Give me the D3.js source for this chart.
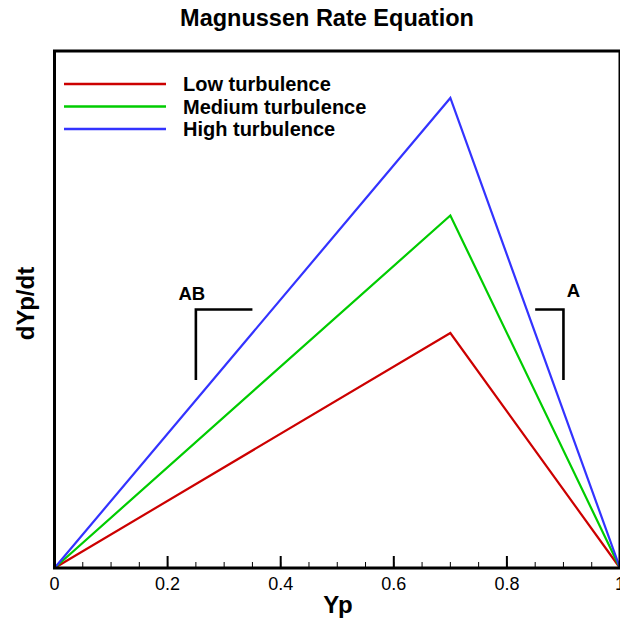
<!DOCTYPE html>
<html>
<head>
<meta charset="utf-8">
<script src="https://cdn.jsdelivr.net/npm/d3@7"></script>
<style>
  html, body { margin: 0; padding: 0; background: #fff; }
  svg { display: block; font-family: "Liberation Sans", Arial, Helvetica, sans-serif; }
</style>
</head>
<body>
<svg id="chart" width="620" height="620"></svg>
<script>
// Rate curves: rise linearly to a peak at Yp = 0.7, fall to zero at Yp = 1
const yp = [0, 0.7, 1];
const lowRate = [0, 1.0, 0];
const mediumRate = [0, 1.5, 0];
const highRate = [0, 2.0, 0];

const seriesNames = ["Low turbulence", "Medium turbulence", "High turbulence"];
const seriesColors = ["#cc0000", "#00cc00", "#3333ff"];
const seriesValues = [lowRate, mediumRate, highRate];

const xTicks = [0, 0.2, 0.4, 0.6, 0.8, 1];
const xTickLabels = ["0", "0.2", "0.4", "0.6", "0.8", "1"];

// Region brackets: corner at (x, yTop), vertical down to yBottom, horizontal to xEnd
const bracketAB = { x: 0.25, xEnd: 0.35, yTop: 1.1, yBottom: 0.8, label: "AB" };
const bracketA = { x: 0.9, xEnd: 0.85, yTop: 1.1, yBottom: 0.8, label: "A" };

const svg = d3.select("#chart");
const margin = { left: 54.5, right: 0, top: 51, bottom: 52 };
const H = 620;

const x = d3.scaleLinear().domain([0, 1]).range([margin.left, 620]);
const y = d3.scaleLinear().domain([0, 2.2]).range([H - margin.bottom, margin.top]);

// Title
svg.append("text")
  .attr("x", 327).attr("y", 26)
  .attr("text-anchor", "middle")
  .attr("font-size", 23.5).attr("font-weight", "bold")
  .text("Magnussen Rate Equation");

// Minor and major ticks pointing inward
const minorTicks = d3.range(0, 1.0001, 0.05);
svg.append("g").selectAll("line.minor").data(minorTicks).join("line")
  .attr("x1", d => x(d)).attr("x2", d => x(d))
  .attr("y1", y(0)).attr("y2", y(0) - 6)
  .attr("stroke", "#000").attr("stroke-width", 1);
svg.append("g").selectAll("line.major").data(xTicks).join("line")
  .attr("x1", d => x(d)).attr("x2", d => x(d))
  .attr("y1", y(0)).attr("y2", y(0) - 12)
  .attr("stroke", "#000").attr("stroke-width", 2);

// Tick labels
svg.append("g").selectAll("text").data(xTicks).join("text")
  .attr("x", d => x(d)).attr("y", y(0) + 22)
  .attr("text-anchor", "middle")
  .attr("font-size", 18)
  .text((d, i) => xTickLabels[i]);

// Axis titles
svg.append("text")
  .attr("x", 338).attr("y", 613)
  .attr("text-anchor", "middle")
  .attr("font-size", 24).attr("font-weight", "bold")
  .text("Yp");
svg.append("text")
  .attr("transform", `translate(34, ${(y(0) + y(2.2)) / 2 - 6}) rotate(-90)`)
  .attr("text-anchor", "middle")
  .attr("font-size", 24).attr("font-weight", "bold")
  .text("dYp/dt");

// Curves
const line = d3.line().x(d => x(d[0])).y(d => y(d[1]));
seriesValues.forEach((vals, i) => {
  svg.append("path")
    .datum(yp.map((v, j) => [v, vals[j]]))
    .attr("d", line)
    .attr("fill", "none")
    .attr("stroke", seriesColors[i])
    .attr("stroke-width", 2.2)
    .attr("stroke-linejoin", "miter");
});

// Brackets
[bracketAB, bracketA].forEach(b => {
  svg.append("path")
    .attr("d", `M${x(b.x)},${y(b.yBottom)} L${x(b.x)},${y(b.yTop)} L${x(b.xEnd)},${y(b.yTop)}`)
    .attr("fill", "none").attr("stroke", "#000").attr("stroke-width", 2.6);
});
svg.append("text")
  .attr("x", x(bracketAB.x) - 4).attr("y", y(bracketAB.yTop) - 10)
  .attr("text-anchor", "middle")
  .attr("font-size", 18.5).attr("font-weight", "bold")
  .text(bracketAB.label);
svg.append("text")
  .attr("x", x(bracketA.x) + 10).attr("y", y(bracketA.yTop) - 13)
  .attr("text-anchor", "middle")
  .attr("font-size", 18.5).attr("font-weight", "bold")
  .text(bracketA.label);

// Frame
svg.append("rect")
  .attr("x", margin.left).attr("y", margin.top)
  .attr("width", x(1) - margin.left).attr("height", y(0) - margin.top)
  .attr("fill", "none").attr("stroke", "#000").attr("stroke-width", 3);

// Legend
const legend = svg.append("g");
seriesNames.forEach((name, i) => {
  const ly = 84 + i * 22.5;
  legend.append("line")
    .attr("x1", 64).attr("x2", 166).attr("y1", ly).attr("y2", ly)
    .attr("stroke", seriesColors[i]).attr("stroke-width", 2.4);
  legend.append("text")
    .attr("x", 183).attr("y", ly + 7)
    .attr("font-size", 20).attr("font-weight", "bold")
    .text(name);
});
</script>
</body>
</html>
